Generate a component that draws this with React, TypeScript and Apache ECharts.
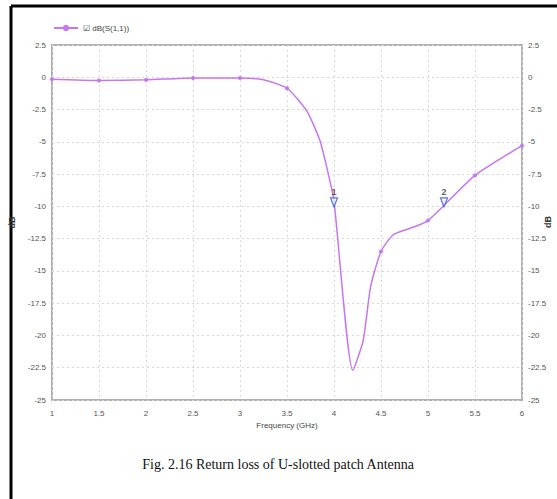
import React, { useEffect, useRef } from "react";
import * as echarts from "echarts";

const freqs = [1, 1.5, 2, 2.5, 3, 3.25, 3.5, 3.71, 3.85, 3.94, 4.0, 4.2, 4.31, 4.39, 4.5, 4.63, 4.81, 5, 5.5, 6];
const s11 = [-0.15, -0.25, -0.2, -0.05, -0.05, -0.2, -0.85, -2.6, -4.9, -7.5, -9.6, -22.7, -20.4, -16.2, -13.5, -12.2, -11.7, -11.1, -7.6, -5.3];
const markerFreqs = [1, 1.5, 2, 2.5, 3, 3.5, 4.5, 5, 5.5, 6];
const markerNames = ["1", "2"];
const markerX = [4.0, 5.17];
const markerY = [-10, -10];
const yTicks = { min: -25, max: 2.5, step: 2.5 };
const xTicks = { min: 1, max: 6, step: 0.5 };

export default function App() {
  const ref = useRef<HTMLDivElement>(null);
  useEffect(() => {
    const chart = echarts.init(ref.current!, null, { renderer: "svg" });
    const lineColor = "#c876f0";
    const labelStyle = { color: "#555", fontSize: 8, fontFamily: "Arial, Liberation Sans, sans-serif" };
    const yAxisBase = {
      type: "value" as const,
      min: yTicks.min,
      max: yTicks.max,
      interval: yTicks.step,
      axisLine: { show: false },
      axisTick: { show: false },
      nameLocation: "middle" as const,
      nameTextStyle: { color: "#333", fontSize: 9, fontWeight: "bold" as const },
    };
    chart.setOption({
      animation: false,
      backgroundColor: "#fff",
      grid: {
        left: 52, right: 35, top: 45, bottom: 99,
        containLabel: false,
        outerBoundsMode: "none",
        show: true, borderColor: "#b0b0b0", borderWidth: 2, backgroundColor: "transparent",
      },
      legend: {
        left: 48,
        top: 19,
        itemWidth: 24,
        itemHeight: 8,
        itemGap: 2,
        data: ["dB(S(1,1))"],
        formatter: () => "☑ dB(S(1,1))",
        textStyle: { color: "#444", fontSize: 8, fontFamily: "Arial, Liberation Sans, sans-serif" },
      },
      xAxis: {
        type: "value",
        min: xTicks.min,
        max: xTicks.max,
        interval: xTicks.step,
        name: "Frequency (GHz)",
        nameLocation: "middle",
        nameGap: 21,
        nameTextStyle: { color: "#444", fontSize: 8 },
        axisLine: { show: false },
        axisTick: { show: false },
        axisLabel: { ...labelStyle, margin: 9 },
        splitLine: { show: true, lineStyle: { color: "#d8d8d8", type: [2, 3], width: 1 } },
      },
      yAxis: [
        {
          ...yAxisBase,
          position: "left",
          name: "dB",
          nameGap: 34,
          axisLabel: { ...labelStyle, margin: 6 },
          splitLine: { show: true, lineStyle: { color: "#d8d8d8", type: [2, 3], width: 1 } },
        },
        {
          ...yAxisBase,
          position: "right",
          axisLabel: { ...labelStyle, margin: 6 },
          splitLine: { show: false },
        },
      ],
      series: [
        {
          name: "dB(S(1,1))",
          type: "line",
          smooth: 0.2,
          color: lineColor,
          lineStyle: { color: lineColor, width: 1.5 },
          itemStyle: { color: lineColor },
          symbol: "circle",
          symbolSize: 4,
          data: freqs.map((f, i) => ({
            value: [f, s11[i]],
            symbolSize: markerFreqs.includes(f) ? 4 : 0,
          })),
          z: 3,
        },
        {
          name: "markers",
          type: "scatter",
          symbol: "triangle",
          symbolRotate: 180,
          symbolSize: [7, 9],
          symbolOffset: [0, -4],
          itemStyle: { color: "#eef2ff", borderColor: "#3355dd", borderWidth: 1.3 },
          label: {
            show: true,
            position: "top",
            distance: 1,
            formatter: (p: any) => markerNames[p.dataIndex],
            color: "#333",
            fontSize: 9,
            fontWeight: "bold",
          },
          data: markerX.map((x, i) => [x, markerY[i]]),
          z: 5,
        },
      ],
      graphic: [
        { type: "line", shape: { x1: 11, y1: 6, x2: 557, y2: 6 }, style: { stroke: "#000", lineWidth: 3 } },
        { type: "line", shape: { x1: 11, y1: 6, x2: 11, y2: 499 }, style: { stroke: "#000", lineWidth: 3 } },
        {
          type: "text",
          x: 548,
          y: 222,
          rotation: Math.PI / 2,
          style: {
            text: "dB",
            fontSize: 9,
            fontWeight: "bold",
            fill: "#333",
            align: "center",
            verticalAlign: "middle",
            fontFamily: "Arial, Liberation Sans, sans-serif",
          },
        },
        {
          type: "text",
          left: "center",
          top: 457,
          style: {
            text: "Fig. 2.16 Return loss of U-slotted patch Antenna",
            fontFamily: "Liberation Serif, Times New Roman, serif",
            fontSize: 14,
            fill: "#111",
          },
        },
      ],
    });
    return () => chart.dispose();
  }, []);
  return <div ref={ref} style={{ position: "fixed", left: 0, top: 0, width: 557, height: 499 }} />;
}
